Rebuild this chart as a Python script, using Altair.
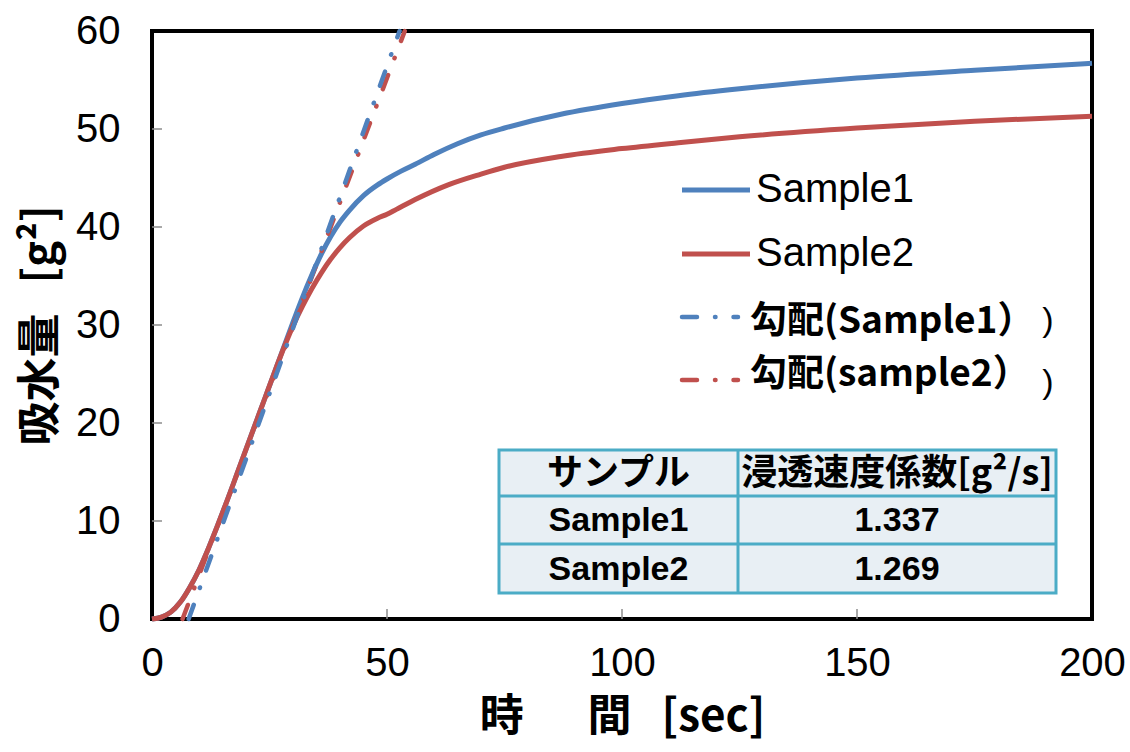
import altair as alt
import pandas as pd

# ---- measured water uptake curves ----
time_s1 = [0, 2, 4, 6, 8, 10, 12, 14, 16, 18, 20, 22, 24, 26, 28,
           30, 32, 34, 36, 38, 40, 42, 45, 48, 50, 53, 56, 60, 65, 70, 75, 87,
           100, 112, 125, 150, 175, 200]
uptake_s1 = [0, 0.2, 0.7, 1.7, 3.2, 5.0, 7.2, 9.6, 12.1, 14.7, 17.3, 19.9, 22.5,
             25.1, 27.7, 30.3, 32.8, 35.1, 37.2, 39.0, 40.5, 41.7, 43.2, 44.3, 44.9,
             45.7, 46.4, 47.4, 48.5, 49.4, 50.1, 51.5, 52.6, 53.4, 54.1, 55.2, 56.0, 56.7]

time_s2 = [0, 2, 4, 6, 8, 10, 12, 14, 16, 18, 20, 22, 24, 26, 28,
           30, 32, 34, 36, 38, 40, 42, 45, 48, 50, 52, 56, 63, 70, 75, 87, 100, 112,
           125, 150, 175, 200]
uptake_s2 = [0, 0.2, 0.7, 1.7, 3.2, 5.0, 7.2, 9.6, 12.1, 14.7, 17.3, 19.9, 22.5,
             25.1, 27.6, 29.9, 31.9, 33.7, 35.3, 36.7, 37.9, 38.9, 40.1, 40.9, 41.3,
             41.8, 42.8, 44.3, 45.4, 46.1, 47.2, 48.0, 48.6, 49.2, 50.1, 50.8, 51.3]

# ---- fitted slopes (penetration rate coefficients) ----
sample_names = ["Sample1", "Sample2"]
slope_values = [1.337, 1.269]       # g^2/s
slope_onset = [7.8, 6.5]            # sec, where the fitted line crosses zero
slope_labels = ["勾配(Sample1）", "勾配(sample2）"]

x_ticks = [0, 50, 100, 150, 200]
y_ticks = [0, 10, 20, 30, 40, 50, 60]
NBSP = "\u00a0"
x_title = "時\u3000" + NBSP * 2 + "間" + NBSP * 3 + "[sec]"
y_title = "吸水量" + NBSP * 3 + "[g²]"

BLUE = "#4F81BD"
RED = "#C0504D"
SERIES_COLORS = [BLUE, RED]
TICK_GRAY = "#8C8C8C"
LATIN = "Liberation Sans"
CJK = "Noto Sans CJK JP"

W, H = 940, 588
Y_MAX = y_ticks[-1]
DASH_DOT = [15, 18, 0.5, 18]

curves = pd.concat([
    pd.DataFrame({"t": time_s1, "w": uptake_s1, "series": "Sample1"}),
    pd.DataFrame({"t": time_s2, "w": uptake_s2, "series": "Sample2"}),
])

slope_rows = []
for name, k, t0 in zip(sample_names, slope_values, slope_onset):
    slope_rows.append({"t": t0, "w": 0.0, "series": name})
    slope_rows.append({"t": t0 + Y_MAX / k, "w": float(Y_MAX), "series": name})
slopes = pd.DataFrame(slope_rows)

x_scale = alt.Scale(domain=[x_ticks[0], x_ticks[-1]], nice=False)
y_scale = alt.Scale(domain=[y_ticks[0], y_ticks[-1]], nice=False)
colors = alt.Scale(domain=sample_names, range=SERIES_COLORS)

X_ENC = alt.X("t:Q", scale=x_scale, title=x_title,
              axis=alt.Axis(values=x_ticks, labelPadding=24, titlePadding=12,
                            labelFlush=False, titleFontSize=44))
Y_ENC = alt.Y("w:Q", scale=y_scale, title=y_title,
              axis=alt.Axis(values=y_ticks, labelPadding=32, titlePadding=12,
                            labelFlush=False, titleFontSize=44))

ONE = pd.DataFrame({"a": [0]})


def curve_layer(name):
    return alt.Chart(curves).transform_filter(
        alt.datum.series == name
    ).mark_line(strokeWidth=5, interpolate="monotone").encode(
        x=X_ENC, y=Y_ENC,
        color=alt.Color("series:N", scale=colors, legend=None),
    )


def slope_layer(name):
    return alt.Chart(slopes).transform_filter(
        alt.datum.series == name
    ).mark_line(strokeWidth=4.5, strokeCap="round", strokeDash=DASH_DOT).encode(
        x=X_ENC, y=Y_ENC,
        color=alt.Color("series:N", scale=colors, legend=None),
    )


def text_at(label, px, py, size, font, weight="normal", align="left"):
    return alt.Chart(ONE).mark_text(
        align=align, baseline="middle", font=font, fontSize=size,
        fontWeight=weight, color="#000"
    ).encode(x=alt.value(px), y=alt.value(py), text=alt.value(label))


def hline_at(x1, x2, py, color, width, dash=None):
    kw = {"color": color, "strokeWidth": width}
    if dash is not None:
        kw.update(strokeDash=dash, strokeCap="round")
    return alt.Chart(ONE).mark_rule(**kw).encode(
        x=alt.value(x1), x2=alt.value(x2), y=alt.value(py))


# inward tick marks
x_tick_marks = alt.Chart(pd.DataFrame({"t": x_ticks[1:-1]})).mark_rule(
    color=TICK_GRAY, strokeWidth=1.5
).encode(x=X_ENC, y=alt.value(H), y2=alt.value(H - 10))

y_tick_marks = alt.Chart(pd.DataFrame({"w": y_ticks[1:-1]})).mark_rule(
    color=TICK_GRAY, strokeWidth=1.5
).encode(y=Y_ENC, x=alt.value(0), x2=alt.value(10))

# ---- legend (inside the plot) ----
legend_layers = []
solid_rows = [159, 223]
slope_rows_px = [286, 349]
slope_text_rows = [291, 344]
for name, color, py in zip(sample_names, SERIES_COLORS, solid_rows):
    legend_layers.append(hline_at(530, 598, py, color, 5))
    legend_layers.append(text_at(name, 604, py, 40, LATIN))
for label, color, py, ty in zip(slope_labels, SERIES_COLORS, slope_rows_px, slope_text_rows):
    legend_layers.append(hline_at(530, 586, py, color, 4.5, DASH_DOT))
    legend_layers.append(text_at(label, 598, ty, 37, CJK, "bold"))
for py in [290, 352]:
    legend_layers.append(text_at(")", 896, py, 34, LATIN, align="center"))

# ---- coefficient table ----
TBL_L, TBL_R, COL_SPLIT = 347, 904, 586
ROW_EDGES = [419, 465, 513, 562]
TBL_BORDER = "#4BACC6"

table_layers = [
    alt.Chart(ONE).mark_rect(fill="#E8EFF4", stroke=TBL_BORDER, strokeWidth=3).encode(
        x=alt.value(TBL_L), x2=alt.value(TBL_R),
        y=alt.value(ROW_EDGES[0]), y2=alt.value(ROW_EDGES[-1])),
    alt.Chart(ONE).mark_rule(color=TBL_BORDER, strokeWidth=3).encode(
        x=alt.value(COL_SPLIT), y=alt.value(ROW_EDGES[0]), y2=alt.value(ROW_EDGES[-1])),
]
for py in ROW_EDGES[1:-1]:
    table_layers.append(hline_at(TBL_L, TBL_R, py, TBL_BORDER, 3))

col_centers = [(TBL_L + COL_SPLIT) / 2, (COL_SPLIT + TBL_R) / 2]
row_centers = [(ROW_EDGES[i] + ROW_EDGES[i + 1]) / 2 + 1 for i in range(3)]

table_layers.append(text_at("サンプル", col_centers[0], row_centers[0], 36, CJK, "bold", "center"))
table_layers.append(text_at("浸透速度係数[g²/s]", col_centers[1], row_centers[0], 36, CJK, "bold", "center"))
for name, k, py in zip(sample_names, slope_values, row_centers[1:]):
    table_layers.append(text_at(name, col_centers[0], py, 34, LATIN, "bold", "center"))
    table_layers.append(text_at(f"{k:.3f}", col_centers[1], py, 34, LATIN, "bold", "center"))

chart = alt.layer(
    curve_layer("Sample1"), curve_layer("Sample2"),
    x_tick_marks, y_tick_marks,
    slope_layer("Sample2"), slope_layer("Sample1"),
    *legend_layers, *table_layers,
).properties(
    width=W, height=H,
    autosize=alt.AutoSizeParams(type="none"),
    padding={"left": 152, "top": 31, "right": 38, "bottom": 133},
    background="#FFFFFF",
).configure_view(
    stroke="#000", strokeWidth=4
).configure_axis(
    grid=False, domain=False, ticks=False,
    labelFont=LATIN, labelFontSize=40, labelColor="#000",
    titleFont=CJK, titleFontWeight="bold", titleColor="#000",
)

chart.save("out.html", embed_options={"renderer": "svg", "actions": False})
